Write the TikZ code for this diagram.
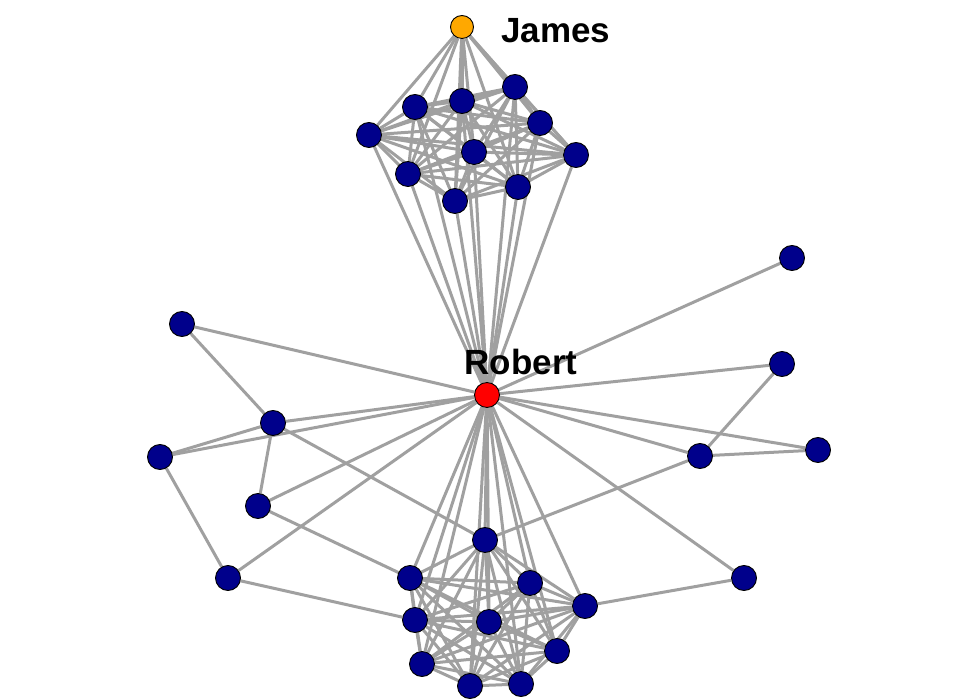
\documentclass[tikz,border=0pt]{standalone}
\usepackage{fontspec}
\setmainfont{Liberation Sans}
\usetikzlibrary{backgrounds}
\definecolor{edgegray}{RGB}{160,160,160}
\definecolor{navy}{RGB}{0,0,139}
\definecolor{jamescol}{RGB}{255,168,0}
\tikzset{
  vtx/.style={circle,draw=black,line width=0.9pt,fill=navy,minimum size=25pt,inner sep=0pt},
  jvtx/.style={vtx,fill=jamescol,minimum size=23pt},
  rvtx/.style={vtx,fill=red},
  edge/.style={draw=edgegray,line width=3pt},
  lbl/.style={font=\fontsize{35}{35}\selectfont\bfseries,inner sep=0pt}
}
\begin{document}
\begin{tikzpicture}[x=1pt,y=-1pt]
\useasboundingbox (0,0) rectangle (980,700);
% top cluster
\node[jvtx] (J) at (462,27) {};
\node[vtx] (t1) at (415,107) {};
\node[vtx] (t2) at (462,101) {};
\node[vtx] (t3) at (515,87) {};
\node[vtx] (t4) at (369,135) {};
\node[vtx] (t5) at (540,123) {};
\node[vtx] (t6) at (474,152) {};
\node[vtx] (t7) at (576,155) {};
\node[vtx] (t8) at (408,174) {};
\node[vtx] (t9) at (455,201) {};
\node[vtx] (t10) at (518,187) {};
% Robert
\node[rvtx] (R) at (487,395) {};
% bottom cluster
\node[vtx] (b1) at (485,540) {};
\node[vtx] (b2) at (410,578) {};
\node[vtx] (b3) at (530,583) {};
\node[vtx] (b4) at (585,606) {};
\node[vtx] (b5) at (415,620) {};
\node[vtx] (b6) at (489,622) {};
\node[vtx] (b7) at (557,651) {};
\node[vtx] (b8) at (422,664) {};
\node[vtx] (b9) at (470,686) {};
\node[vtx] (b10) at (521,684) {};
% periphery
\node[vtx] (p1) at (182,324) {};
\node[vtx] (p4) at (273,423) {};
\node[vtx] (p5) at (160,457) {};
\node[vtx] (p8) at (258,506) {};
\node[vtx] (p10) at (228,578) {};
\node[vtx] (r1) at (792,258) {};
\node[vtx] (r2) at (782,364) {};
\node[vtx] (r3) at (700,456) {};
\node[vtx] (r4) at (818,450) {};
\node[vtx] (r5) at (744,578) {};
% labels
\node[lbl,anchor=west] (jl) at (501,31) {James};
\node[lbl] (rl) at (521,362) {Robert};
\begin{pgfonlayer}{background}
\fill[white] (0,0) rectangle (980,700);
\foreach \i [evaluate=\i as \k using int(\i+1)] in {1,...,9}
  \foreach \j in {\k,...,10} {
    \draw[edge] (t\i) -- (t\j);
    \draw[edge] (b\i) -- (b\j);
  }
\foreach \i in {1,...,10} {
  \draw[edge] (J) -- (t\i);
  \draw[edge] (R) -- (t\i);
  \draw[edge] (R) -- (b\i);
}
\foreach \a/\b in {R/p1,p1/p4,R/p4,p5/p4,p5/R,p4/p8,p5/p10,p10/R,p8/R,p8/b2,p4/b1,p10/b5,
                   R/r1,R/r2,r2/r3,R/r3,R/r4,r3/r4,r3/b1,R/r5,r5/b4}
  \draw[edge] (\a) -- (\b);
\end{pgfonlayer}
\end{tikzpicture}
\end{document}
